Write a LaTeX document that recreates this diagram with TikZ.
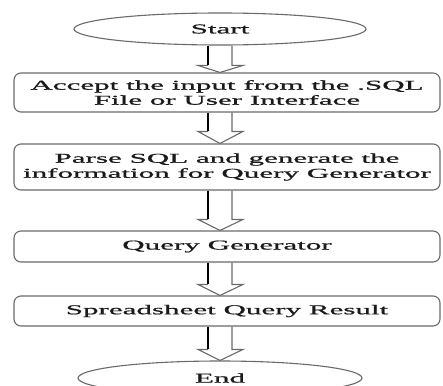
\documentclass[tikz,border=0pt]{standalone}
\usepackage{fontspec}
\setmainfont[FakeStretch=2.3,FakeBold=1]{Liberation Serif}
\usetikzlibrary{shapes.geometric,calc}
\definecolor{edgegray}{HTML}{6A6A6A}
\definecolor{txt}{HTML}{1A1A1A}
\tikzset{
  procbox/.style={draw=edgegray, line width=1.1pt, rounded corners=7pt, minimum width=426pt,
     inner sep=0pt, align=center, text=txt, font=\fontsize{13.5pt}{15pt}\selectfont},
  termnode/.style={draw=edgegray, line width=1.1pt, ellipse, inner sep=0pt, text=txt,
     font=\fontsize{13.5pt}{15pt}\selectfont},
  arrowgray/.style={draw=edgegray, line width=1.1pt, line join=miter},
  arrowblack/.style={draw=black, line width=1.4pt},
}
\newcommand\flowarrow[3]{%
  \draw[arrowgray] ($(#1.south -| ax)+(12,0)$) -- ($(#2.north -| ax)+(12,-#3)$)
     -- ($(#2.north -| ax)+(23,-#3)$) -- (#2.north -| ax)
     -- ($(#2.north -| ax)+(-22,-#3)$) -- ($(#2.north -| ax)+(-12,-#3)$);
  \draw[arrowblack] ($(#1.south -| ax)+(-12,0)$) -- ($(#2.north -| ax)+(-12,-#3)$);
}
\begin{document}
\begin{tikzpicture}[x=1pt,y=-1pt]
\useasboundingbox (0,0) rectangle (443,385);
\coordinate (ax) at (220,0);
\node[termnode, minimum width=292pt, minimum height=32pt] (start) at (220,29) {Start};
\node[procbox, minimum height=39pt] (b1) at (227,92.5) {Accept the input from the .SQL\\File or User Interface};
\node[procbox, minimum height=46pt] (b2) at (227,167) {Parse SQL and generate the\\information for Query Generator};
\node[procbox, minimum height=31pt] (b3) at (227,246.5) {Query Generator};
\node[procbox, minimum height=30pt] (b4) at (227,311) {Spreadsheet Query Result};
\node[termnode, minimum width=284pt, minimum height=34pt] (end) at (220,378) {End};
\flowarrow{start}{b1}{7}
\flowarrow{b1}{b2}{12}
\flowarrow{b2}{b3}{11}
\flowarrow{b3}{b4}{11}
\flowarrow{b4}{end}{11}
\end{tikzpicture}
\end{document}
